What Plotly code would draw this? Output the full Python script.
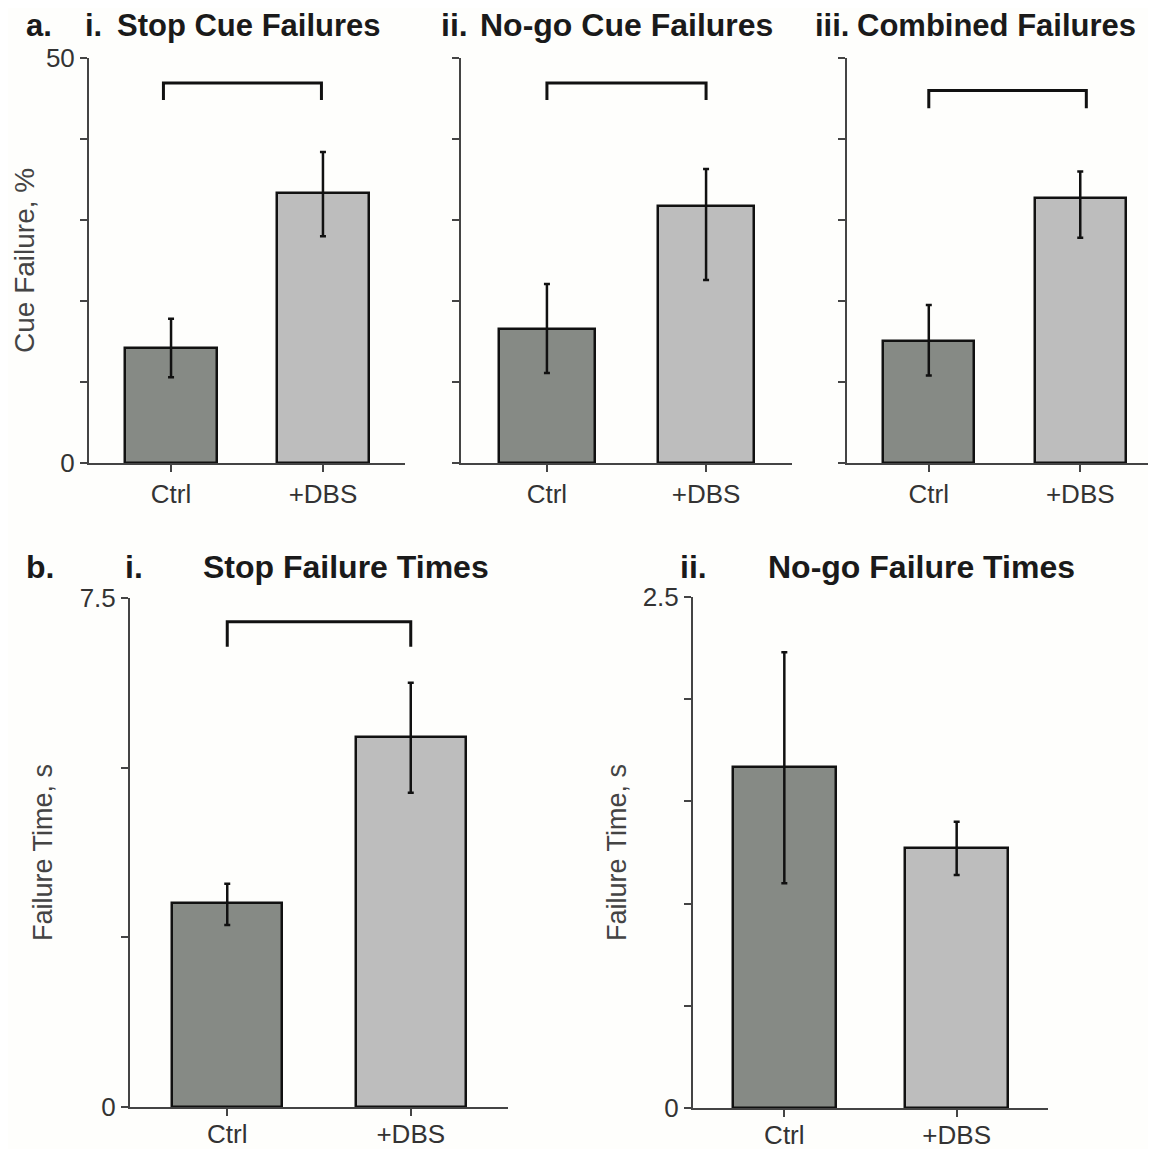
import plotly.graph_objects as go

W, H = 1156, 1149
OFF = 8  # page body margin compensation (px)

categories = ["Ctrl", "+DBS"]

# Panel a (Cue Failure, %)
ai_vals = [14.2, 33.3]
ai_up = [3.6, 5.1]
ai_dn = [3.6, 5.3]
aii_vals = [16.5, 31.7]
aii_up = [5.6, 4.6]
aii_dn = [5.4, 9.1]
aiii_vals = [15.1, 32.7]
aiii_up = [4.4, 3.3]
aiii_dn = [4.3, 4.9]

# Panel b (Failure Time, s)
bi_vals = [3.00, 5.45]
bi_up = [0.29, 0.80]
bi_dn = [0.32, 0.82]
bii_vals = [1.67, 1.27]
bii_up = [0.56, 0.13]
bii_dn = [0.57, 0.13]

# significance brackets: (x_left, x_right, y_top, y_bottom)
ai_bracket = [-0.05, 0.99, 46.9, 44.8]
aii_bracket = [0.0, 1.0, 46.9, 44.8]
aiii_bracket = [0.0, 1.04, 46.0, 43.8]
bi_bracket = [0.0, 1.0, 7.15, 6.78]

a_ticks = [0, 10, 20, 30, 40, 50]
a_ticklabels = ["0", "", "", "", "", "50"]
bi_ticks = [0, 2.5, 5, 7.5]
bi_ticklabels = ["0", "", "", "7.5"]
bii_ticks = [0, 0.5, 1.0, 1.5, 2.0, 2.5]
bii_ticklabels = ["0", "", "", "", "", "2.5"]

colors = ["#868a85", "#bdbdbd"]
FONT = "Liberation Sans, Arial, Helvetica, sans-serif"
AXC = "#444444"

fig = go.Figure()

def px_x(p):
    return (p - OFF) / W

def px_y(p):
    return 1 - (p - OFF) / H

panels = [
    ("", ai_vals, ai_up, ai_dn, (89, 405), (58, 463), [0, 50], [-0.54, 1.54], a_ticks, a_ticklabels, ai_bracket, 0),
    ("2", aii_vals, aii_up, aii_dn, (461, 792), (58, 463), [0, 50], [-0.54, 1.54], a_ticks, ["" for _ in a_ticks], aii_bracket, 0),
    ("3", aiii_vals, aiii_up, aiii_dn, (847, 1156), (58, 463), [0, 50], [-0.54, 1.50], a_ticks, ["" for _ in a_ticks], aiii_bracket, 0),
    ("4", bi_vals, bi_up, bi_dn, (130, 508), (598, 1107), [0, 7.5], [-0.53, 1.53], bi_ticks, bi_ticklabels, bi_bracket, -4),
    ("5", bii_vals, bii_up, bii_dn, (693, 1048), (597, 1108), [0, 2.5], [-0.53, 1.53], bii_ticks, bii_ticklabels, None, -4),
]

layout_axes = {}
for name, vals, up, dn, xd, yd, yr, xr, tv, tt, br, stand in panels:
    xa = "x" + name
    ya = "y" + name
    fig.add_trace(go.Bar(
        x=[0, 1], y=vals, width=0.6,
        marker=dict(color=colors, line=dict(color="#111111", width=2.5)),
        error_y=dict(type="data", symmetric=False, array=up, arrayminus=dn,
                     color="#111111", thickness=2.5, width=3),
        xaxis=xa, yaxis=ya, showlegend=False, hoverinfo="skip",
    ))
    if br is not None:
        fig.add_trace(go.Scatter(
            x=[br[0], br[0], br[1], br[1]], y=[br[3], br[2], br[2], br[3]],
            mode="lines", line=dict(color="#111111", width=3),
            xaxis=xa, yaxis=ya, showlegend=False, hoverinfo="skip",
        ))
    layout_axes["xaxis" + name] = dict(
        domain=[px_x(xd[0]), min(1.0, px_x(xd[1]))], range=xr, anchor=ya,
        tickvals=[0, 1], ticktext=categories, ticks="outside", ticklen=7,
        tickwidth=2, tickcolor=AXC, showline=True, linecolor=AXC, linewidth=2,
        showgrid=False, zeroline=False, fixedrange=True, automargin=False,
        ticklabelstandoff=stand,
        tickfont=dict(family=FONT, size=26, color="#333333"),
    )
    layout_axes["yaxis" + name] = dict(
        domain=[px_y(yd[1]), px_y(yd[0])], range=yr, anchor=xa,
        tickvals=tv, ticktext=tt, ticks="outside", ticklen=7, tickwidth=2,
        tickcolor=AXC, showline=True, linecolor=AXC, linewidth=2,
        showgrid=False, zeroline=False, fixedrange=True, automargin=False,
        tickfont=dict(family=FONT, size=26, color="#333333"),
    )

annotations = []

def txt(x, y, s, size, bold=False, angle=0, xanchor="left", color="#1a1a1a"):
    annotations.append(dict(
        x=px_x(x), y=px_y(y), xref="paper", yref="paper", text=("<b>%s</b>" % s) if bold else s,
        showarrow=False, xanchor=xanchor, yanchor="middle", textangle=angle,
        font=dict(family=FONT, size=size, color=color), borderpad=0,
    ))

# top row titles
txt(25, 25, "a.", 31, True)
txt(84, 25, "i.", 31, True)
txt(116, 25, "Stop Cue Failures", 31, True)
txt(440, 25, "ii.", 32, True)
txt(479, 25, "No-go Cue Failures", 32, True)
txt(814, 25, "iii.", 31, True)
txt(856, 25, "Combined Failures", 31, True)
# bottom row titles
txt(25, 567, "b.", 32, True)
txt(124, 567, "i.", 32, True)
txt(202, 567, "Stop Failure Times", 32, True)
txt(679, 567, "ii.", 32, True)
txt(767, 567, "No-go Failure Times", 32, True)

# y-axis titles
txt(25, 261, "Cue Failure, %", 28, False, -90, "center", "#444444")
txt(43, 853, "Failure Time, s", 27, False, -90, "center", "#444444")
txt(617, 853, "Failure Time, s", 27, False, -90, "center", "#444444")

fig.update_layout(
    width=W, height=H, margin=dict(l=0, r=0, t=0, b=0, pad=0, autoexpand=False),
    paper_bgcolor="#fefefc", plot_bgcolor="#fefefc",
    annotations=annotations, bargap=0, **layout_axes,
)

fig.write_html("out.html")
